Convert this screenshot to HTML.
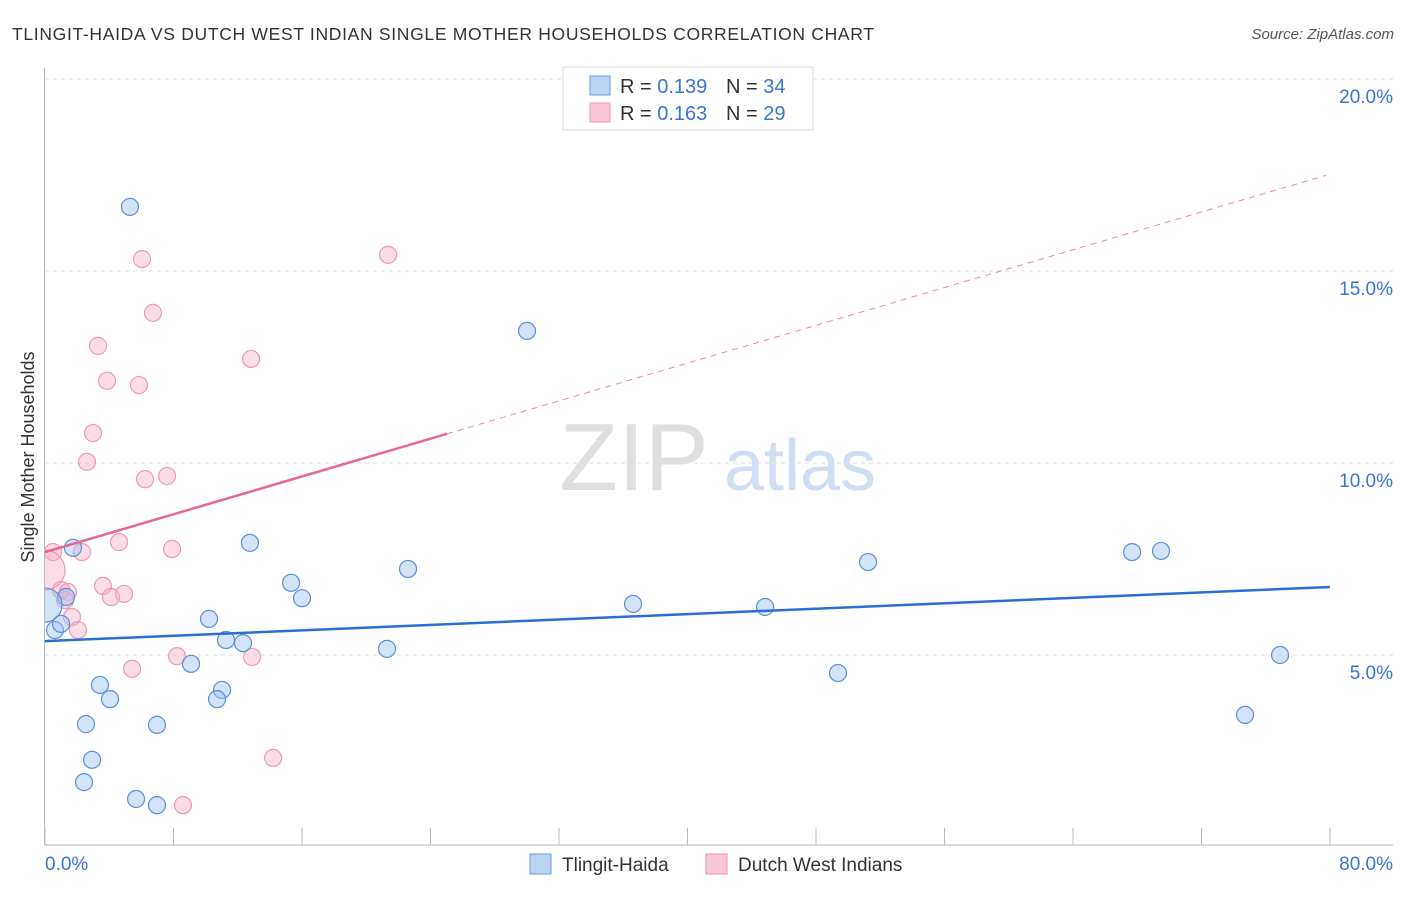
<!DOCTYPE html>
<html><head><meta charset="utf-8">
<style>
body{margin:0;background:#fff;font-family:"Liberation Sans",sans-serif;}
svg text{font-family:"Liberation Sans",sans-serif;}
</style></head>
<body>
<svg id="chart" width="1406" height="892" viewBox="0 0 1406 892" xmlns="http://www.w3.org/2000/svg">
<text x="12" y="40" font-size="17.5" fill="#333" textLength="862" lengthAdjust="spacing">TLINGIT-HAIDA VS DUTCH WEST INDIAN SINGLE MOTHER HOUSEHOLDS CORRELATION CHART</text>
<text x="1394" y="39" font-size="15" fill="#555" font-style="italic" text-anchor="end">Source: ZipAtlas.com</text>
<text transform="translate(34,457) rotate(-90)" font-size="18" fill="#333" text-anchor="middle">Single Mother Households</text>
<g>
<text x="634" y="490" font-size="96" fill="#d8d8d8" font-family="Liberation Serif" text-anchor="middle" opacity="0.8">ZIP</text>
<text x="800" y="490" font-size="72" fill="#c4d6ef" text-anchor="middle" opacity="0.8">atlas</text>
</g>
<g id="grid"></g>
<g id="axes"></g>
<defs><clipPath id="plotclip"><rect x="45" y="60" width="1350" height="785"/></clipPath></defs>
<g id="marks" clip-path="url(#plotclip)"></g>
<g id="lines"></g>
<g>
<rect x="563" y="67" width="250" height="63" fill="#fff" stroke="#ddd"/>
<rect x="590" y="76" width="20" height="19" fill="#b9d3f5" stroke="#6b9be0"/>
<rect x="590" y="103" width="20" height="19" fill="#fbc6d6" stroke="#ee9ab3"/>
<text x="620" y="93" font-size="20" fill="#333">R = <tspan fill="#3a74d4">0.139</tspan></text>
<text x="726" y="93" font-size="20" fill="#333">N = <tspan fill="#3a74d4">34</tspan></text>
<text x="620" y="120" font-size="20" fill="#333">R = <tspan fill="#3a74d4">0.163</tspan></text>
<text x="726" y="120" font-size="20" fill="#333">N = <tspan fill="#3a74d4">29</tspan></text>
</g>
<g>
<rect x="530" y="854" width="21" height="20" fill="#b9d3f5" stroke="#6b9be0"/>
<text x="562" y="871" font-size="19" fill="#333">Tlingit-Haida</text>
<rect x="706" y="854" width="21" height="20" fill="#fbc6d6" stroke="#ee9ab3"/>
<text x="738" y="871" font-size="19" fill="#333">Dutch West Indians</text>
</g>
</svg>
<script>
const yTicks=[5,10,15,20];
const yTickLabels=["5.0%","10.0%","15.0%","20.0%"];
const xTicks=[0,10,20,30,40,50,60,70,80];
const blueX=[5.29,30.01,1.74,12.76,22.60,15.32,16.00,1.31,0,10.21,0.62,1.00,11.27,12.33,21.29,9.09,3.42,11.02,4.05,10.71,2.55,6.97,2.93,2.43,5.67,6.97,36.61,44.83,51.24,49.37,67.68,69.48,76.89,74.71];
const blueY=[16.67,13.44,7.79,7.92,7.24,6.88,6.48,6.51,6.30,5.94,5.65,5.81,5.39,5.31,5.16,4.77,4.22,4.09,3.85,3.85,3.20,3.18,2.27,1.69,1.25,1.09,6.33,6.25,7.42,4.53,7.68,7.71,5.00,3.44];
const pinkX=[6.04,21.36,6.72,3.30,12.83,3.86,5.85,2.99,2.61,7.60,6.23,0.50,2.30,4.61,7.91,0,3.61,1.00,1.43,4.92,4.11,1.68,2.05,8.22,12.89,5.42,14.20,8.59,1.25];
const pinkY=[15.31,15.42,13.91,13.05,12.71,12.14,12.03,10.78,10.03,9.66,9.58,7.68,7.68,7.94,7.76,7.21,6.80,6.69,6.64,6.59,6.51,5.99,5.65,4.97,4.95,4.64,2.32,1.09,6.43];
const blueTrend=[0,5.36,80,6.77];
const pinkTrend=[0,7.68,25.03,10.76,79.75,17.49];

const NS="http://www.w3.org/2000/svg";
const xs=v=>45+v/80*1285;
const ys=v=>847-v*38.4;
function mk(tag,attrs,parent){const e=document.createElementNS(NS,tag);for(const k in attrs)e.setAttribute(k,attrs[k]);parent.appendChild(e);return e;}
const grid=document.getElementById('grid'),axes=document.getElementById('axes'),marks=document.getElementById('marks'),lines=document.getElementById('lines');
yTicks.forEach((t,i)=>{
 const l=mk('line',{x1:45,x2:1393,y1:ys(t),y2:ys(t),stroke:'#ddd','stroke-dasharray':'4,4'},grid);
 
 
 const tx=mk('text',{x:1393,y:ys(t)+24,'font-size':19,fill:'#3a74d4','text-anchor':'end'},axes);
 tx.textContent=yTickLabels[i];
 
 
});
const la=mk('line',{x1:44.5,x2:44.5,y1:68,y2:845,stroke:'#bbb'},axes);


const ba=mk('line',{x1:45,x2:1393,y1:845,y2:845,stroke:'#bbb'},axes);


for(let v=0;v<=80;v+=80/10){
 const t=mk('line',{x1:xs(v),x2:xs(v),y1:828,y2:845,stroke:'#bbb'},axes);
 
 
}
const x0=mk('text',{x:45,y:870,'font-size':19,fill:'#3a74d4'},axes);x0.textContent='0.0%';


const x1=mk('text',{x:1393,y:870,'font-size':19,fill:'#3a74d4','text-anchor':'end'},axes);x1.textContent='80.0%';



pinkX.forEach((v,i)=>{
 const r=(v===0)?20:8.5;
 const c=mk('circle',{cx:xs(v),cy:ys(pinkY[i]),r:r,fill:'rgba(248,170,195,0.4)',stroke:'#ee9ab3','stroke-width':1.2},marks);
 
 
});
blueX.forEach((v,i)=>{
 const r=(v===0)?17:8.5;
 const c=mk('circle',{cx:xs(v),cy:ys(blueY[i]),r:r,fill:'rgba(160,195,240,0.45)',stroke:'#5a8fdc','stroke-width':1.2},marks);
 
 
});
const bt=mk('line',{x1:xs(blueTrend[0]),y1:ys(blueTrend[1]),x2:xs(blueTrend[2]),y2:ys(blueTrend[3]),stroke:'#2b6fd6','stroke-width':2.5},lines);


const pt=mk('line',{x1:xs(pinkTrend[0]),y1:ys(pinkTrend[1]),x2:xs(pinkTrend[2]),y2:ys(pinkTrend[3]),stroke:'#e8668f','stroke-width':2.5},lines);


const pd=mk('line',{x1:xs(pinkTrend[2]),y1:ys(pinkTrend[3]),x2:xs(pinkTrend[4]),y2:ys(pinkTrend[5]),stroke:'#eb8aa8','stroke-width':1,'stroke-dasharray':'6,5'},lines);


</script>
</body></html>
